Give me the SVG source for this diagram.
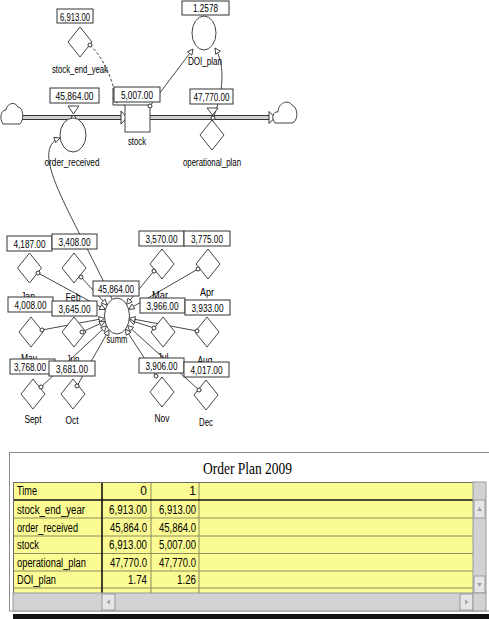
<svg xmlns="http://www.w3.org/2000/svg" width="489" height="619" viewBox="0 0 489 619">
<style>
text{font-family:"Liberation Sans",Arial,sans-serif;fill:#000}
.v,.lb{font-size:10.5px;text-anchor:middle}
.box{fill:#fff;stroke:#333;stroke-width:1}
.shape{fill:#fff;stroke:#444;stroke-width:1}
.dot{fill:#fff;stroke:#333;stroke-width:1}
.cn{fill:none;stroke:#333;stroke-width:0.9;marker-end:url(#ah)}
.dash{stroke-dasharray:3 2}
.pipe{fill:#cfcfcf}
.edge{fill:none;stroke:#333;stroke-width:1}
.t{font-size:12px}
.tv{font-size:12px;text-anchor:end}
.grid{stroke:#8c8c5c;stroke-width:1}
.heavy{stroke:#111;stroke-width:1.6}
.sb{fill:#d2d2d2;stroke:#9a9a9a;stroke-width:1}
.btn{fill:#e6e6e6;stroke:#9a9a9a;stroke-width:1}
.glyph{fill:#a0a0a0}
</style>
<defs>
<marker id="ah" viewBox="0 0 10 10" refX="9" refY="5" markerWidth="7" markerHeight="7" markerUnits="userSpaceOnUse" orient="auto">
<path d="M1,1 L9,5 L1,9Z" fill="#fff" stroke="#333" stroke-width="1.2"/>
</marker>
<path id="dia" d="M0,-15 L12,0 L0,15 L-12,0Z"/>
</defs>

<rect width="489" height="619" fill="#fff"/>

<!-- pipes and information links -->
<g id="connectors">
<rect class="pipe" x="22" y="115.5" width="100" height="4"/>
<path class="edge" d="M22,115.5H122M22,119.5H122"/>
<path d="M121,111 L127,117.5 L121,124Z" fill="#fff" stroke="#333"/>
<rect class="pipe" x="150" y="115.5" width="120" height="4"/>
<path class="edge" d="M150,115.5H270M150,119.5H270"/>
<path d="M269,111.5 L275,117.5 L269,123.5Z" fill="#fff" stroke="#333"/>

<path class="cn dash" d="M90,45 C105,60 113,80 117,103"/>
<path class="cn" d="M150,106 L193,49"/>
<path class="cn" d="M213,118 C223,95 226,65 215,48"/>
<path class="cn" d="M112,299 C70,210 28,150 60,138"/>

<path class="cn" d="M38,273 L105.3,309.6"/>
<path class="cn" d="M81,277 L107,305.2"/>
<path class="cn" d="M154,271 L126.5,304.4"/>
<path class="cn" d="M198,269 L128.6,309.3"/>
<path class="cn" d="M42,330 L104.6,318.3"/>
<path class="cn" d="M82,332 L105.1,321.4"/>
<path class="cn" d="M154,328 L129.2,320"/>
<path class="cn" d="M197,331 L129.4,318.3"/>
<path class="cn" d="M41,387 L106.5,325.8"/>
<path class="cn" d="M77,386 L109.1,329.9"/>
<path class="cn" d="M156,376 L125.5,329.1"/>
<path class="cn" d="M199,390 L127.6,325.6"/>
</g>

<g id="cloud_source">
<path class="shape" d="M3,124 C-1,118 1,110 6,110 C7,103 15,101 18,107 C24,108 24,120 20,124 Z"/>
</g>
<g id="cloud_sink">
<path class="shape" d="M275,123 C271,118 273,111 278,112 C278,103 288,99 292,105 C299,108 298,122 292,123 Z"/>
</g>

<g id="stock_end_year">
<use href="#dia" class="shape" x="80" y="42"/>
<circle class="dot" cx="90" cy="45" r="2"/>
<text class="lb" x="80" y="73" textLength="56" lengthAdjust="spacingAndGlyphs">stock_end_yeak</text>
<rect class="box" x="57" y="9" width="36" height="14"/>
<text class="v" x="75" y="20.5" textLength="30" lengthAdjust="spacingAndGlyphs">6,913.00</text>
</g>

<g id="DOI_plan">
<ellipse class="shape" cx="204" cy="33" rx="12" ry="17"/>
<text class="lb" x="205" y="65" textLength="34" lengthAdjust="spacingAndGlyphs">DOI_plan</text>
<rect class="box" x="182" y="1" width="47" height="14"/>
<text class="v" x="205.5" y="12" textLength="25" lengthAdjust="spacingAndGlyphs">1.2578</text>
</g>

<g id="stock">
<rect class="shape" x="125" y="105" width="25" height="27"/>
<path class="edge" d="M113,88 V105 H125"/>
<rect class="box" x="114" y="87" width="46" height="15"/>
<text class="v" x="137" y="98.5" textLength="32" lengthAdjust="spacingAndGlyphs">5,007.00</text>
<circle class="dot" cx="150" cy="106" r="2"/>
<text class="lb" x="137" y="145" textLength="18" lengthAdjust="spacingAndGlyphs">stock</text>
</g>

<g id="order_received">
<path class="shape" d="M68,106 L79,106 L73.5,114Z"/>
<circle class="dot" cx="73.5" cy="117.5" r="2"/>
<ellipse class="shape" cx="73" cy="135" rx="13" ry="17"/>
<text class="lb" x="72" y="166" textLength="55" lengthAdjust="spacingAndGlyphs">order_received</text>
<rect class="box" x="50" y="88" width="49" height="15"/>
<text class="v" x="74.5" y="99.5" textLength="38" lengthAdjust="spacingAndGlyphs">45,864.00</text>
</g>

<g id="operational_plan">
<path class="shape" d="M207,108 L218,108 L212.5,115Z"/>
<use href="#dia" class="shape" x="212" y="135"/>
<circle class="dot" cx="213" cy="118" r="2"/>
<text class="lb" x="212" y="166" textLength="58" lengthAdjust="spacingAndGlyphs">operational_plan</text>
<rect class="box" x="190" y="89" width="43" height="15"/>
<text class="v" x="211.5" y="100.5" textLength="36" lengthAdjust="spacingAndGlyphs">47,770.00</text>
</g>

<g id="summ">
<ellipse class="shape" cx="117" cy="316" rx="12.5" ry="18"/>
<text class="lb" x="117" y="343" textLength="21" lengthAdjust="spacingAndGlyphs">summ</text>
<rect class="box" x="93" y="281" width="46" height="15"/>
<text class="v" x="116" y="292.5" textLength="36" lengthAdjust="spacingAndGlyphs">45,864.00</text>
</g>

<g id="Jan">
<use href="#dia" class="shape" x="29.5" y="268"/>
<circle class="dot" cx="38" cy="273" r="2"/>
<text class="lb" x="28" y="300" textLength="14" lengthAdjust="spacingAndGlyphs">Jan</text>
<rect class="box" x="7" y="236" width="45" height="15"/>
<text class="v" x="29.5" y="247.5" textLength="32" lengthAdjust="spacingAndGlyphs">4,187.00</text>
</g>
<g id="Feb">
<use href="#dia" class="shape" x="74" y="268"/>
<circle class="dot" cx="81" cy="277" r="2"/>
<text class="lb" x="73" y="301" textLength="15" lengthAdjust="spacingAndGlyphs">Feb</text>
<rect class="box" x="52" y="234" width="45" height="15"/>
<text class="v" x="74.5" y="245.5" textLength="32" lengthAdjust="spacingAndGlyphs">3,408.00</text>
</g>
<g id="Mar">
<use href="#dia" class="shape" x="162" y="264"/>
<circle class="dot" cx="154" cy="271" r="2"/>
<text class="lb" x="160" y="299" textLength="16" lengthAdjust="spacingAndGlyphs">Mar</text>
<rect class="box" x="139" y="231" width="45" height="15"/>
<text class="v" x="161.5" y="242.5" textLength="32" lengthAdjust="spacingAndGlyphs">3,570.00</text>
</g>
<g id="Apr">
<use href="#dia" class="shape" x="208" y="264"/>
<circle class="dot" cx="198" cy="269" r="2"/>
<text class="lb" x="207" y="296" textLength="14" lengthAdjust="spacingAndGlyphs">Apr</text>
<rect class="box" x="184" y="231" width="46" height="15"/>
<text class="v" x="207" y="242.5" textLength="32" lengthAdjust="spacingAndGlyphs">3,775.00</text>
</g>
<g id="May">
<use href="#dia" class="shape" x="31" y="332"/>
<circle class="dot" cx="42" cy="330" r="2"/>
<text class="lb" x="29" y="362" textLength="16" lengthAdjust="spacingAndGlyphs">May</text>
<rect class="box" x="8" y="297" width="45" height="15"/>
<text class="v" x="30.5" y="308.5" textLength="32" lengthAdjust="spacingAndGlyphs">4,008.00</text>
</g>
<g id="Jun">
<use href="#dia" class="shape" x="74" y="332"/>
<circle class="dot" cx="82" cy="332" r="2"/>
<text class="lb" x="73" y="363" textLength="13" lengthAdjust="spacingAndGlyphs">Jun</text>
<rect class="box" x="52" y="301" width="45" height="15"/>
<text class="v" x="74.5" y="312.5" textLength="32" lengthAdjust="spacingAndGlyphs">3,645.00</text>
</g>
<g id="Jul">
<use href="#dia" class="shape" x="163" y="332"/>
<circle class="dot" cx="154" cy="328" r="2"/>
<text class="lb" x="163" y="361" textLength="11" lengthAdjust="spacingAndGlyphs">Jul</text>
<rect class="box" x="140" y="298" width="45" height="15"/>
<text class="v" x="162.5" y="309.5" textLength="32" lengthAdjust="spacingAndGlyphs">3,966.00</text>
</g>
<g id="Aug">
<use href="#dia" class="shape" x="207" y="332"/>
<circle class="dot" cx="197" cy="331" r="2"/>
<text class="lb" x="205" y="364" textLength="15" lengthAdjust="spacingAndGlyphs">Aug</text>
<rect class="box" x="185" y="300" width="45" height="15"/>
<text class="v" x="207.5" y="311.5" textLength="32" lengthAdjust="spacingAndGlyphs">3,933.00</text>
</g>
<g id="Sept">
<use href="#dia" class="shape" x="33" y="394"/>
<circle class="dot" cx="41" cy="387" r="2"/>
<text class="lb" x="33" y="423" textLength="17" lengthAdjust="spacingAndGlyphs">Sept</text>
<rect class="box" x="10" y="359" width="45" height="15"/>
<text class="v" x="30" y="370.5" textLength="32" lengthAdjust="spacingAndGlyphs">3,768.00</text>
</g>
<g id="Oct">
<use href="#dia" class="shape" x="73" y="394"/>
<circle class="dot" cx="77" cy="386" r="2"/>
<text class="lb" x="72" y="424" textLength="13" lengthAdjust="spacingAndGlyphs">Oct</text>
<rect class="box" x="49" y="361" width="46" height="15"/>
<text class="v" x="72" y="372.5" textLength="32" lengthAdjust="spacingAndGlyphs">3,681.00</text>
</g>
<g id="Nov">
<use href="#dia" class="shape" x="162" y="392"/>
<circle class="dot" cx="156" cy="376" r="2"/>
<text class="lb" x="162" y="422" textLength="15" lengthAdjust="spacingAndGlyphs">Nov</text>
<rect class="box" x="139" y="358" width="45" height="15"/>
<text class="v" x="161.5" y="369.5" textLength="32" lengthAdjust="spacingAndGlyphs">3,906.00</text>
</g>
<g id="Dec">
<use href="#dia" class="shape" x="206" y="395"/>
<circle class="dot" cx="199" cy="390" r="2"/>
<text class="lb" x="206" y="426" textLength="14" lengthAdjust="spacingAndGlyphs">Dec</text>
<rect class="box" x="184" y="362" width="45" height="15"/>
<text class="v" x="206.5" y="373.5" textLength="32" lengthAdjust="spacingAndGlyphs">4,017.00</text>
</g>

<!-- results table -->
<g id="order_plan_table">
<rect x="13" y="614" width="476" height="5" fill="#111"/>
<rect x="9.5" y="452.5" width="490" height="158.5" fill="#fff" stroke="#8a8a8a"/>
<text x="247.5" y="473.5" font-size="16" text-anchor="middle" textLength="89" lengthAdjust="spacingAndGlyphs" style="font-family:'Liberation Serif',serif">Order Plan 2009</text>

<rect x="13" y="482" width="460" height="111" fill="#fbfb94"/>
<path class="grid" d="M13,518H473M13,536H473M13,553.5H473M13,571H473M13,588H473M151,482V593M199,482V593"/>
<path class="heavy" d="M13,500H473M102,482V593"/>
<path d="M13,482.5H473M13.5,482V593" stroke="#6a6a6a" fill="none"/>

<rect class="sb" x="473" y="482" width="13" height="111"/>
<rect class="btn" x="474" y="500" width="11" height="18"/>
<path class="glyph" d="M479.5,507 L482,511 L477,511Z"/>
<rect class="btn" x="474" y="576" width="11" height="17"/>
<path class="glyph" d="M477,583 L482,583 L479.5,587Z"/>

<rect class="sb" x="13" y="593" width="460" height="18"/>
<rect class="btn" x="102" y="594" width="13" height="16"/>
<path class="glyph" d="M110,599.5 L110,604.5 L106.5,602Z"/>
<rect class="btn" x="460" y="594" width="13" height="16"/>
<path class="glyph" d="M465,599.5 L468.5,602 L465,604.5Z"/>
<rect class="sb" x="473" y="593" width="13" height="18"/>

<text class="t" x="17" y="495" textLength="20" lengthAdjust="spacingAndGlyphs">Time</text>
<text class="tv" x="147" y="495">0</text>
<text class="tv" x="196" y="495">1</text>

<text class="t" x="17" y="513.5" textLength="68" lengthAdjust="spacingAndGlyphs">stock_end_year</text>
<text class="tv" x="147" y="513.5" textLength="38" lengthAdjust="spacingAndGlyphs">6,913.00</text>
<text class="tv" x="196" y="513.5" textLength="37" lengthAdjust="spacingAndGlyphs">6,913.00</text>

<text class="t" x="17" y="531.5" textLength="61" lengthAdjust="spacingAndGlyphs">order_received</text>
<text class="tv" x="147" y="531.5" textLength="37" lengthAdjust="spacingAndGlyphs">45,864.0</text>
<text class="tv" x="196" y="531.5" textLength="37" lengthAdjust="spacingAndGlyphs">45,864.0</text>

<text class="t" x="17" y="549" textLength="22" lengthAdjust="spacingAndGlyphs">stock</text>
<text class="tv" x="147" y="549" textLength="38" lengthAdjust="spacingAndGlyphs">6,913.00</text>
<text class="tv" x="196" y="549" textLength="37" lengthAdjust="spacingAndGlyphs">5,007.00</text>

<text class="t" x="17" y="566.5" textLength="69" lengthAdjust="spacingAndGlyphs">operational_plan</text>
<text class="tv" x="147" y="566.5" textLength="37" lengthAdjust="spacingAndGlyphs">47,770.0</text>
<text class="tv" x="196" y="566.5" textLength="37" lengthAdjust="spacingAndGlyphs">47,770.0</text>

<text class="t" x="17" y="584" textLength="39" lengthAdjust="spacingAndGlyphs">DOI_plan</text>
<text class="tv" x="147" y="584" textLength="19" lengthAdjust="spacingAndGlyphs">1.74</text>
<text class="tv" x="196" y="584" textLength="19" lengthAdjust="spacingAndGlyphs">1.26</text>
</g>
</svg>
